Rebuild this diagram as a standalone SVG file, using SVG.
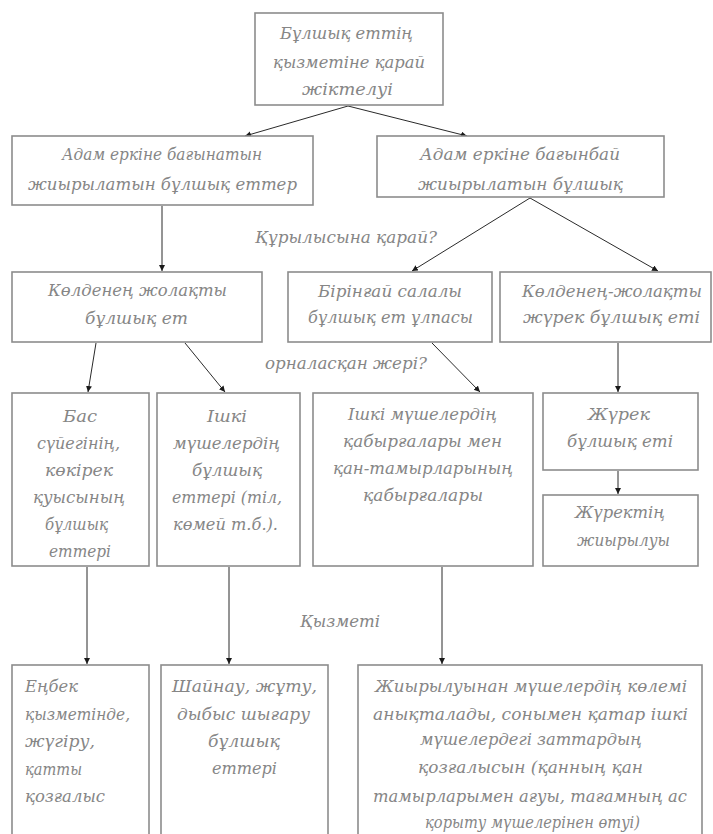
<svg xmlns="http://www.w3.org/2000/svg" width="713" height="834" viewBox="0 0 713 834">
<style>
.box{fill:#fff;stroke:#8c8c8c;stroke-width:1.6}
.t{font-family:"DejaVu Serif","Liberation Serif",serif;font-style:italic;font-size:17px;fill:#868686}
.c{stroke:#2a2a2a;stroke-width:1;fill:none;marker-end:url(#ah)}
</style>
<defs>
<marker id="ah" markerUnits="userSpaceOnUse" markerWidth="7" markerHeight="7" refX="6" refY="3" orient="auto">
<path d="M0,0 L6,3 L0,6 z" fill="#1a1a1a"/>
</marker>
</defs>
<rect width="713" height="834" fill="#fff"/>
<g id="connectors">
<line class="c" x1="348" y1="106" x2="245" y2="136"/>
<line class="c" x1="348" y1="106" x2="467" y2="136"/>
<line class="c" x1="162" y1="206" x2="162" y2="271"/>
<line class="c" x1="530" y1="198" x2="412" y2="271"/>
<line class="c" x1="530" y1="198" x2="658" y2="271"/>
<line class="c" x1="96" y1="343" x2="88" y2="392"/>
<line class="c" x1="185" y1="343" x2="225" y2="392"/>
<line class="c" x1="432" y1="343" x2="480" y2="392"/>
<line class="c" x1="618" y1="343" x2="618" y2="392"/>
<line class="c" x1="618" y1="471" x2="618" y2="494"/>
<line class="c" x1="87" y1="567" x2="87" y2="664"/>
<line class="c" x1="229" y1="567" x2="229" y2="664"/>
<line class="c" x1="442" y1="567" x2="442" y2="664"/>
</g>
<g id="labels">
<text class="t" x="255" y="243" textLength="182" lengthAdjust="spacingAndGlyphs">Құрылысына қарай?</text>
<text class="t" x="265" y="369" textLength="162" lengthAdjust="spacingAndGlyphs">орналасқан жері?</text>
<text class="t" x="300" y="627" textLength="80" lengthAdjust="spacingAndGlyphs">Қызметі</text>
</g>
<g id="n_top">
<rect class="box" x="255" y="13" width="188" height="92"/>
<text class="t" x="280" y="39" textLength="133" lengthAdjust="spacingAndGlyphs">Бұлшық еттің</text>
<text class="t" x="273" y="68" textLength="152" lengthAdjust="spacingAndGlyphs">қызметіне қарай</text>
<text class="t" x="302" y="95" textLength="91" lengthAdjust="spacingAndGlyphs">жіктелуі</text>
</g>
<g id="n_voluntary">
<rect class="box" x="12" y="136" width="301" height="69"/>
<text class="t" x="62" y="160" textLength="200" lengthAdjust="spacingAndGlyphs">Адам еркіне бағынатын</text>
<text class="t" x="28" y="190" textLength="269" lengthAdjust="spacingAndGlyphs">жиырылатын бұлшық еттер</text>
</g>
<g id="n_involuntary">
<rect class="box" x="377" y="136" width="287" height="61"/>
<text class="t" x="420" y="160" textLength="200" lengthAdjust="spacingAndGlyphs">Адам еркіне бағынбай</text>
<text class="t" x="418" y="190" textLength="205" lengthAdjust="spacingAndGlyphs">жиырылатын бұлшық</text>
</g>
<g id="n_striated">
<rect class="box" x="12" y="272" width="250" height="70"/>
<text class="t" x="48" y="296" textLength="179" lengthAdjust="spacingAndGlyphs">Көлденең жолақты</text>
<text class="t" x="85" y="324" textLength="103" lengthAdjust="spacingAndGlyphs">бұлшық ет</text>
</g>
<g id="n_smooth">
<rect class="box" x="288" y="272" width="204" height="70"/>
<text class="t" x="318" y="297" textLength="144" lengthAdjust="spacingAndGlyphs">Бірінғай салалы</text>
<text class="t" x="308" y="323" textLength="165" lengthAdjust="spacingAndGlyphs">бұлшық ет ұлпасы</text>
</g>
<g id="n_cardiac">
<rect class="box" x="500" y="272" width="211" height="70"/>
<text class="t" x="522" y="297" textLength="180" lengthAdjust="spacingAndGlyphs">Көлденең-жолақты</text>
<text class="t" x="523" y="323" textLength="177" lengthAdjust="spacingAndGlyphs">жүрек бұлшық еті</text>
</g>
<g id="n_head">
<rect class="box" x="12" y="393" width="137" height="173"/>
<text class="t" x="63" y="422" textLength="34" lengthAdjust="spacingAndGlyphs">Бас</text>
<text class="t" x="37" y="449" textLength="83" lengthAdjust="spacingAndGlyphs">сүйегінің,</text>
<text class="t" x="45" y="476" textLength="68" lengthAdjust="spacingAndGlyphs">көкірек</text>
<text class="t" x="33" y="503" textLength="92" lengthAdjust="spacingAndGlyphs">қуысының</text>
<text class="t" x="45" y="530" textLength="63" lengthAdjust="spacingAndGlyphs">бұлшық</text>
<text class="t" x="49" y="557" textLength="62" lengthAdjust="spacingAndGlyphs">еттері</text>
</g>
<g id="n_inner">
<rect class="box" x="157" y="393" width="143" height="173"/>
<text class="t" x="207" y="422" textLength="40" lengthAdjust="spacingAndGlyphs">Ішкі</text>
<text class="t" x="173" y="449" textLength="107" lengthAdjust="spacingAndGlyphs">мүшелердің</text>
<text class="t" x="192" y="476" textLength="70" lengthAdjust="spacingAndGlyphs">бұлшық</text>
<text class="t" x="172" y="503" textLength="110" lengthAdjust="spacingAndGlyphs">еттері (тіл,</text>
<text class="t" x="173" y="530" textLength="105" lengthAdjust="spacingAndGlyphs">көмей т.б.).</text>
</g>
<g id="n_walls">
<rect class="box" x="313" y="393" width="220" height="173"/>
<text class="t" x="348" y="420" textLength="149" lengthAdjust="spacingAndGlyphs">Ішкі мүшелердің</text>
<text class="t" x="343" y="447" textLength="159" lengthAdjust="spacingAndGlyphs">қабырғалары мен</text>
<text class="t" x="333" y="474" textLength="180" lengthAdjust="spacingAndGlyphs">қан-тамырларының</text>
<text class="t" x="363" y="501" textLength="120" lengthAdjust="spacingAndGlyphs">қабырғалары</text>
</g>
<g id="n_heart">
<rect class="box" x="543" y="393" width="155" height="77"/>
<text class="t" x="588" y="420" textLength="62" lengthAdjust="spacingAndGlyphs">Жүрек</text>
<text class="t" x="567" y="447" textLength="106" lengthAdjust="spacingAndGlyphs">бұлшық еті</text>
</g>
<g id="n_heartcontr">
<rect class="box" x="543" y="495" width="155" height="71"/>
<text class="t" x="575" y="518" textLength="90" lengthAdjust="spacingAndGlyphs">Жүректің</text>
<text class="t" x="577" y="546" textLength="93" lengthAdjust="spacingAndGlyphs">жиырылуы</text>
</g>
<g id="n_work">
<rect class="box" x="12" y="665" width="137" height="180"/>
<text class="t" x="25" y="692" textLength="53" lengthAdjust="spacingAndGlyphs">Еңбек</text>
<text class="t" x="25" y="720" textLength="105" lengthAdjust="spacingAndGlyphs">қызметінде,</text>
<text class="t" x="25" y="747" textLength="70" lengthAdjust="spacingAndGlyphs">жүгіру,</text>
<text class="t" x="25" y="775" textLength="57" lengthAdjust="spacingAndGlyphs">қатты</text>
<text class="t" x="25" y="802" textLength="80" lengthAdjust="spacingAndGlyphs">қозғалыс</text>
</g>
<g id="n_chew">
<rect class="box" x="161" y="665" width="167" height="180"/>
<text class="t" x="172" y="692" textLength="145" lengthAdjust="spacingAndGlyphs">Шайнау, жұту,</text>
<text class="t" x="177" y="720" textLength="133" lengthAdjust="spacingAndGlyphs">дыбыс шығару</text>
<text class="t" x="208" y="747" textLength="72" lengthAdjust="spacingAndGlyphs">бұлшық</text>
<text class="t" x="212" y="774" textLength="65" lengthAdjust="spacingAndGlyphs">еттері</text>
</g>
<g id="n_organs">
<rect class="box" x="358" y="665" width="344" height="180"/>
<text class="t" x="375" y="692" textLength="312" lengthAdjust="spacingAndGlyphs">Жиырылуынан мүшелердің көлемі</text>
<text class="t" x="373" y="720" textLength="315" lengthAdjust="spacingAndGlyphs">анықталады, сонымен қатар ішкі</text>
<text class="t" x="420" y="745" textLength="222" lengthAdjust="spacingAndGlyphs">мүшелердегі заттардың</text>
<text class="t" x="418" y="773" textLength="225" lengthAdjust="spacingAndGlyphs">қозғалысын (қанның қан</text>
<text class="t" x="373" y="802" textLength="314" lengthAdjust="spacingAndGlyphs">тамырларымен ағуы, тағамның ас</text>
<text class="t" x="425" y="828" textLength="215" lengthAdjust="spacingAndGlyphs">қорыту мүшелерінен өтуі)</text>
</g>
</svg>
